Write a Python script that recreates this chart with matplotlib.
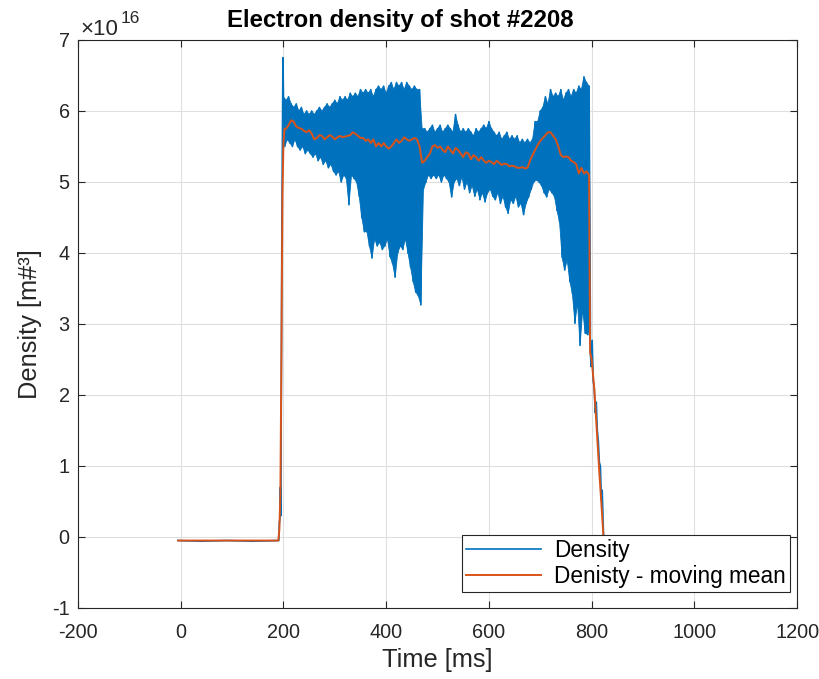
import numpy as np
import matplotlib
matplotlib.use("Agg")
import matplotlib.pyplot as plt

plt.rcParams['font.family'] = ['Liberation Sans', 'DejaVu Sans']
plt.rcParams['axes.unicode_minus'] = False
plt.rcParams['path.simplify'] = False

# ---------------- data (values in units of 1e16 m^-3) ----------------
base_t = [-5, 40, 90, 140, 191]
base_v = [-0.05, -0.06, -0.05, -0.06, -0.05]

rise_t = [192, 193, 194, 195, 196, 197, 198, 199]
rise_v = [0.2, 0.25, 0.7, 0.3, 2.5, 4.5, 5.6, 6.75]

band_t = list(range(200, 800, 5))
band_upper = [
    6.2, 6.15, 6.2, 6.1, 6.05, 6.1, 6.0, 6.05, 5.95, 6.0,
    5.95, 6.0, 5.95, 6.0, 6.05, 6.0, 6.05, 6.1, 6.05, 6.1,
    6.15, 6.1, 6.2, 6.15, 6.2, 6.15, 6.25, 6.2, 6.25, 6.2,
    6.3, 6.25, 6.3, 6.25, 6.3, 6.2, 6.3, 6.35, 6.3, 6.35,
    6.25, 6.35, 6.4, 6.3, 6.4, 6.35, 6.4, 6.3, 6.4, 6.35,
    6.3, 6.35, 6.3, 6.3, 5.75, 5.75, 5.7, 5.75, 5.8, 5.7,
    5.75, 5.8, 5.7, 5.75, 5.8, 5.75, 5.7, 5.95, 5.8, 5.7,
    5.75, 5.7, 5.75, 5.7, 5.65, 5.75, 5.7, 5.75, 5.8, 5.75,
    5.85, 5.75, 5.7, 5.65, 5.7, 5.6, 5.65, 5.7, 5.6, 5.65,
    5.6, 5.65, 5.55, 5.6, 5.55, 5.6, 5.55, 5.6, 5.85, 5.85,
    6.0, 6.05, 6.2, 6.1, 6.3, 6.2, 6.25, 6.2, 6.3, 6.15,
    6.25, 6.3, 6.2, 6.3, 6.25, 6.35, 6.3, 6.48, 6.4, 6.35,
]
band_lower = [
    5.5, 5.6, 5.55, 5.5, 5.6, 5.5, 5.45, 5.5, 5.4, 5.45,
    5.4, 5.35, 5.4, 5.3, 5.35, 5.25, 5.3, 5.2, 5.25, 5.15,
    5.1, 5.15, 5.0, 5.1, 5.05, 4.68, 5.1, 5.05, 5.0, 4.8,
    4.5, 4.3, 4.3, 4.1, 3.93, 4.2, 4.1, 4.15, 4.05, 4.1,
    4.2, 3.95, 3.85, 3.66, 4.0, 4.1, 4.05, 4.2, 4.0, 3.8,
    3.6, 3.45, 3.4, 3.27, 4.9, 5.0, 5.1, 5.05, 5.1, 5.05,
    5.1, 5.0, 5.1, 5.05, 5.0, 4.79, 5.0, 5.05, 4.95, 5.07,
    4.9, 5.0, 4.85, 4.95, 4.8, 4.9, 4.75, 4.85, 4.72, 4.85,
    4.9, 4.8, 4.75, 4.85, 4.7, 4.8, 4.65, 4.56, 4.75, 4.7,
    4.8, 4.65, 4.7, 4.54, 4.7, 4.79, 4.9, 5.0, 5.03, 5.0,
    4.95, 4.85, 4.79, 4.9, 4.85, 4.8, 4.6, 4.44, 3.94, 3.76,
    3.9, 3.6, 3.43, 3.01, 3.3, 2.7, 3.2, 2.87, 2.85, 3.0,
]

tail_t = [797.5, 799, 801, 803, 805, 807, 809, 811, 813, 815, 817, 819, 820.5, 822, 824, 826]
tail_v = [2.6, 2.4, 2.77, 2.2, 2.1, 1.75, 1.9, 1.5, 1.35, 1.05, 1.0, 0.52, 0.66, 0.3, -0.2, -0.6]

mean_t = [-5, 190, 192, 194, 196, 198, 200, 202] + list(range(205, 800, 5)) + \
         [797, 800, 805, 810, 815, 820, 823, 826]
mean_v = [-0.05, -0.05, 0.1, 0.6, 2.5, 4.8, 5.55, 5.75] + [
    5.75, 5.8, 5.87, 5.85, 5.78, 5.76, 5.75, 5.72, 5.7, 5.73,
    5.68, 5.6, 5.62, 5.66, 5.65, 5.6, 5.63, 5.66, 5.64, 5.6,
    5.63, 5.65, 5.63, 5.64, 5.65, 5.66, 5.7, 5.68, 5.65, 5.62,
    5.62, 5.58, 5.6, 5.55, 5.6, 5.5, 5.55, 5.5, 5.55, 5.5,
    5.47, 5.5, 5.55, 5.6, 5.55, 5.58, 5.63, 5.6, 5.58, 5.6,
    5.62, 5.6, 5.5, 5.27, 5.3, 5.35, 5.4, 5.5, 5.52, 5.48,
    5.5, 5.45, 5.42, 5.5, 5.45, 5.4, 5.48, 5.45, 5.4, 5.35,
    5.42, 5.4, 5.32, 5.38, 5.35, 5.3, 5.35, 5.3, 5.27, 5.3,
    5.28, 5.25, 5.3, 5.27, 5.24, 5.26, 5.25, 5.22, 5.23, 5.22,
    5.2, 5.2, 5.21, 5.19, 5.2, 5.3, 5.38, 5.45, 5.52, 5.58,
    5.62, 5.66, 5.7, 5.7, 5.65, 5.6, 5.5, 5.38, 5.35, 5.36,
    5.35, 5.3, 5.28, 5.25, 5.12, 5.2, 5.12, 5.15, 5.1,
] + [2.6, 2.5, 2.1, 1.5, 0.9, 0.35, 0.0, -0.5]

x_ticks = [-200, 0, 200, 400, 600, 800, 1000, 1200]
y_ticks = [-1, 0, 1, 2, 3, 4, 5, 6, 7]

# ---------------- build density trace: zig-zag between read envelope values ----------------
zig_t, zig_v = [], []
for t, up, lo in zip(band_t, band_upper, band_lower):
    zig_t += [t, t + 2.5]
    zig_v += [up, lo]
dens_t = np.array(base_t + rise_t + zig_t + tail_t, dtype=float)
dens_v = np.array(base_v + rise_v + zig_v + tail_v, dtype=float)

scale = 1e16
blue = '#0072BD'
orange = '#D95319'
edge = '#262626'

fig = plt.figure(figsize=(8.2, 6.79), dpi=100)
ax = fig.add_axes([0.0951, 0.1046, 0.8770, 0.8365])

# dense noisy band: envelope polygon (upper at knots, lower half-way between)
bt = np.array(band_t, dtype=float)
poly_x = np.concatenate([bt, (bt + 2.5)[::-1]])
poly_y = np.concatenate([np.array(band_upper), np.array(band_lower)[::-1]]) * scale
ax.fill(poly_x, poly_y, color=blue, lw=0.6, zorder=2)

ax.plot(dens_t, dens_v * scale, color=blue, lw=1.2, label='Density', zorder=2)
ax.plot(mean_t, np.array(mean_v) * scale, color=orange, lw=1.4,
        label='Denisty - moving mean', zorder=3)

ax.set_xlim(-200, 1200)
ax.set_ylim(-1 * scale, 7 * scale)
ax.set_xticks(x_ticks)
ax.set_yticks([v * scale for v in y_ticks])
ax.set_xticklabels([str(v) for v in x_ticks])
ax.set_yticklabels([str(v) for v in y_ticks])

ax.grid(True, color='#DFDFDF', lw=0.8)
ax.set_axisbelow(True)
for s in ax.spines.values():
    s.set_color(edge)
    s.set_linewidth(0.8)
ax.tick_params(direction='in', length=5, width=0.8, colors=edge, labelsize=14.3,
               top=True, right=True, labelcolor=edge)
ax.tick_params(axis='x', pad=11)
ax.tick_params(axis='y', pad=6)

ax.set_xlabel('Time [ms]', fontsize=18.3, color=edge, labelpad=4)
ax.set_ylabel('Density [m#³]', fontsize=18.3, color=edge, labelpad=7)
ax.set_title('Electron density of shot #2208', fontsize=17.3, fontweight='bold',
             color='black', pad=9, x=0.448)

# exponent label (x10^16) at top-left of the y axis
fig.text(80 / 820, 1 - 35 / 679, '×10', fontsize=16, color=edge,
         ha='left', va='baseline')
fig.text(121 / 820, 1 - 23 / 679, '16', fontsize=12.5, color=edge,
         ha='left', va='baseline')

leg = ax.legend(loc='lower right', bbox_to_anchor=(0.99, 0.028), borderaxespad=0,
                fontsize=16.3, frameon=True, fancybox=False, handlelength=3.3,
                handletextpad=0.55, borderpad=0.2, labelspacing=0.1)
leg.get_frame().set_edgecolor(edge)
leg.get_frame().set_linewidth(0.8)
leg.get_frame().set_alpha(1)
for txt in leg.get_texts():
    txt.set_color('black')

fig.savefig('out.png', dpi=100)
